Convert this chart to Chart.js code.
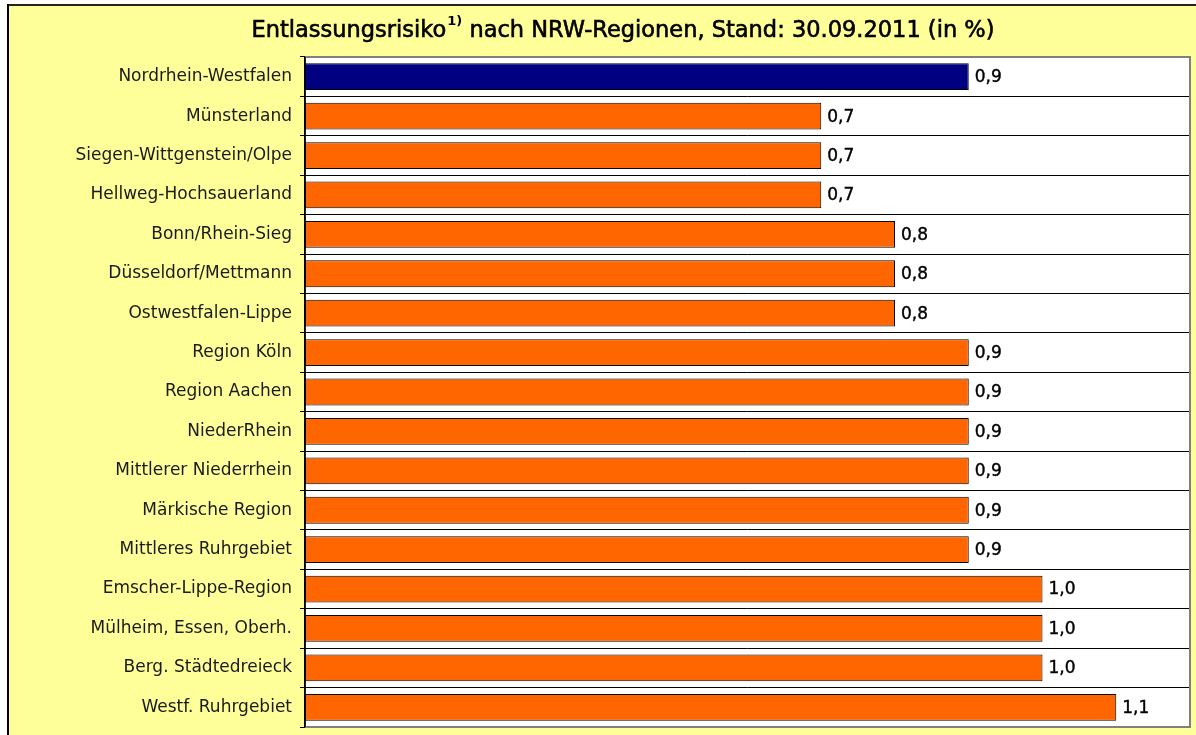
<!DOCTYPE html>
<html>
<head>
<meta charset="utf-8">
<script src="https://cdn.jsdelivr.net/npm/chart.js@4.4.1/dist/chart.umd.min.js"></script>
<style>
html,body{margin:0;padding:0;background:#fff;}
#wrap{position:relative;width:1196px;height:735px;}
canvas{display:block;}
</style>
</head>
<body>
<div id="wrap"><canvas id="c" width="1196" height="735"></canvas></div>
<script>
const regions = [
  "Nordrhein-Westfalen","Münsterland","Siegen-Wittgenstein/Olpe","Hellweg-Hochsauerland",
  "Bonn/Rhein-Sieg","Düsseldorf/Mettmann","Ostwestfalen-Lippe","Region Köln","Region Aachen",
  "NiederRhein","Mittlerer Niederrhein","Märkische Region","Mittleres Ruhrgebiet",
  "Emscher-Lippe-Region","Mülheim, Essen, Oberh.","Berg. Städtedreieck","Westf. Ruhrgebiet"
];
const risk = [0.9,0.7,0.7,0.7,0.8,0.8,0.8,0.9,0.9,0.9,0.9,0.9,0.9,1.0,1.0,1.0,1.1];
const titleMain = "Entlassungsrisiko";
const titleSup = "1)";
const titleRest = " nach NRW-Regionen, Stand: 30.09.2011 (in %)";

const barColors = risk.map((v,i)=> i===0 ? "#000080" : "#FF6600");

const backgroundPlugin = {
  id:"bg",
  beforeDraw(chart){
    const ctx = chart.ctx, a = chart.chartArea;
    ctx.save();
    ctx.fillStyle="#ffffff";
    ctx.fillRect(0,0,chart.width,chart.height);
    ctx.fillStyle="#FFFF99";
    ctx.fillRect(7,4,chart.width-7,chart.height-4);
    ctx.fillStyle="#ffffff";
    ctx.fillRect(a.left,a.top,a.right-a.left,a.bottom-a.top);
    ctx.restore();
  },
  afterDraw(chart){
    const ctx = chart.ctx, a = chart.chartArea;
    ctx.save();
    ctx.fillStyle="#222222";
    ctx.fillRect(7,4,chart.width-7,2);
    ctx.fillStyle="#000000";
    ctx.fillRect(7,4,2,chart.height-4);
    ctx.strokeStyle="#808080";
    ctx.lineWidth=2;
    ctx.beginPath();
    ctx.moveTo(a.left,a.top);
    ctx.lineTo(a.right,a.top);
    ctx.lineTo(a.right,a.bottom);
    ctx.lineTo(a.left,a.bottom);
    ctx.stroke();
    ctx.strokeStyle="#000000";
    ctx.lineWidth=1.5;
    ctx.beginPath();
    ctx.moveTo(a.left,a.top);
    ctx.lineTo(a.left,a.bottom);
    ctx.stroke();
    const cx = 623, cy = 31;
    ctx.fillStyle="#000000";
    ctx.strokeStyle="#000000";
    ctx.lineWidth=0.6;
    ctx.textBaseline="middle";
    ctx.textAlign="left";
    const fMain = "22.5px 'DejaVu Sans'";
    const fSup = "bold 13px 'DejaVu Sans'";
    ctx.font=fMain; const w1 = ctx.measureText(titleMain).width; const w3 = ctx.measureText(titleRest).width;
    ctx.font=fSup; const w2 = ctx.measureText(titleSup).width;
    let x = cx - (w1+w2+w3+1)/2;
    ctx.font=fMain; ctx.fillText(titleMain,x,cy); ctx.strokeText(titleMain,x,cy); x+=w1;
    ctx.font=fSup; ctx.fillText(titleSup,x+1,cy-9); x+=w2+1;
    ctx.font=fMain; ctx.fillText(titleRest,x,cy); ctx.strokeText(titleRest,x,cy);
    ctx.restore();
  }
};

const labelPlugin = {
  id:"vals",
  afterDatasetsDraw(chart){
    const ctx = chart.ctx;
    const meta = chart.getDatasetMeta(0);
    ctx.save();
    ctx.font="17px 'DejaVu Sans'";
    ctx.fillStyle="#000000";
    ctx.strokeStyle="#000000";
    ctx.lineWidth=0.4;
    ctx.textAlign="left";
    ctx.textBaseline="middle";
    meta.data.forEach((bar,i)=>{
      const txt = risk[i].toFixed(1).replace(".",",");
      ctx.fillText(txt, bar.x+6, bar.y+1);
      ctx.strokeText(txt, bar.x+6, bar.y+1);
    });
    ctx.restore();
  }
};

new Chart(document.getElementById("c"),{
  type:"bar",
  data:{
    labels:regions,
    datasets:[{
      data:risk,
      backgroundColor:barColors,
      borderColor:"#000000",
      borderWidth:1,
      borderSkipped:false,
      categoryPercentage:1.0,
      barPercentage:0.68
    }]
  },
  options:{
    indexAxis:"y",
    responsive:false,
    animation:false,
    events:[],
    layout:{padding:{left:0,top:57,right:6,bottom:8}},
    plugins:{legend:{display:false},tooltip:{enabled:false},title:{display:false}},
    scales:{
      x:{display:false,min:0,max:1.2},
      y:{
        grid:{color:"#000000",lineWidth:1,tickLength:5,offset:true,drawOnChartArea:true},
        border:{display:true,color:"#000000",width:1.5},
        ticks:{color:"#1a1a1a",font:{family:"'DejaVu Sans'",size:17},padding:8,autoSkip:false},
        afterFit(scale){ scale.width = 305; scale.paddingTop = 0; scale.paddingBottom = 0; }
      }
    }
  },
  plugins:[backgroundPlugin,labelPlugin]
});
</script>
</body>
</html>
